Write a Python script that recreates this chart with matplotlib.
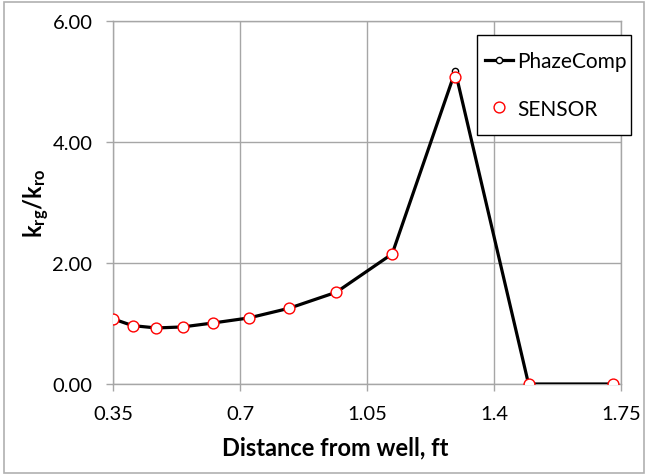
import matplotlib
matplotlib.use("Agg")
import matplotlib.pyplot as plt
from matplotlib.patches import Rectangle

# distance from well (ft) and gas/oil relative permeability ratio
distance = [0.35, 0.403, 0.469, 0.541, 0.626, 0.724, 0.835, 0.965, 1.119, 1.293, 1.495, 1.728]
phazecomp = [1.075, 0.965, 0.926, 0.943, 1.009, 1.092, 1.252, 1.517, 2.15, 5.17, 0.0, 0.0]
sensor = [1.075, 0.965, 0.926, 0.943, 1.009, 1.092, 1.252, 1.517, 2.15, 5.07, 0.0, 0.0]

x_ticks = [0.35, 0.7, 1.05, 1.4, 1.75]
x_tick_labels = ["0.35", "0.7", "1.05", "1.4", "1.75"]
y_ticks = [0, 2, 4, 6]

plt.rcParams['font.family'] = ['Lato', 'DejaVu Sans']
plt.rcParams['mathtext.fontset'] = 'custom'
plt.rcParams['mathtext.rm'] = 'Lato'
plt.rcParams['mathtext.bf'] = 'Lato:bold'

W, H = 650, 477
fig = plt.figure(figsize=(W / 100, H / 100), dpi=100)
ax = fig.add_axes([0.1743, 0.1929, 0.9554 - 0.1743, 0.9539 - 0.1929])

grey = "#a6a6a6"
ax.plot(distance, phazecomp, color="black", lw=2.3, marker="o", ms=4.5,
        mfc="white", mec="black", mew=1.0, label="PhazeComp", zorder=3)
ax.plot(distance, sensor, ls="none", marker="o", ms=7.8, mfc="white",
        mec="red", mew=1.0, label="SENSOR", zorder=4)

ax.set_xlim(0.35, 1.75)
ax.set_ylim(0, 6)
ax.set_xticks(x_ticks)
ax.set_xticklabels(x_tick_labels)
ax.set_yticks(y_ticks)
ax.set_yticklabels(["%.2f" % v for v in y_ticks])
ax.grid(True, color=grey, lw=1.0)
ax.set_axisbelow(True)
for s in ax.spines.values():
    s.set_color(grey)
    s.set_linewidth(1.0)
ax.tick_params(direction="out", length=5, width=1.0, color=grey, labelsize=14.5)
ax.tick_params(axis="x", pad=10)
ax.tick_params(axis="y", pad=10)

ax.set_xlabel("Distance from well, ft", fontsize=17, fontweight="bold")
ax.xaxis.set_label_coords(0.4367, -0.143)
ax.set_ylabel(r"$\mathbf{k_{rg}/k_{ro}}$", fontsize=17)
ax.yaxis.set_label_coords(-0.12, 0.5)

# legend box drawn separately so the padding can be uneven
fig.patches.append(Rectangle((477 / W, 1 - 136 / H), 154 / W, 100 / H,
                             transform=fig.transFigure, facecolor="white",
                             edgecolor="black", lw=1.0, zorder=5))
leg = fig.legend(loc="upper left", bbox_to_anchor=(485 / W, 1 - 52.5 / H),
                 fontsize=15, frameon=False, labelspacing=1.3, borderpad=0,
                 handlelength=1.35, handletextpad=0.2, borderaxespad=0)
leg.set_zorder(6)

# light outer border around the whole chart
fig.patches.append(Rectangle((4 / W, 1 - 474 / H), 640 / W, 471 / H,
                             transform=fig.transFigure, fill=False,
                             edgecolor="#b0b0b0", lw=1.2))

fig.savefig("out.png", dpi=100)
